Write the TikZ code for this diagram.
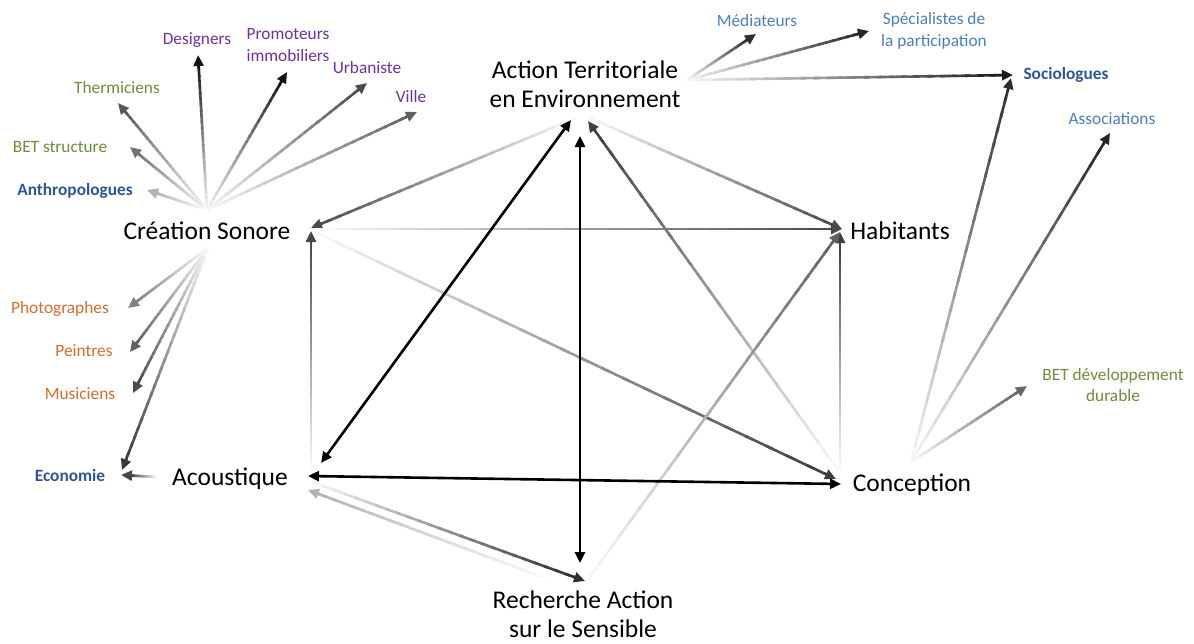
\documentclass[tikz,border=0pt]{standalone}
\usepackage{fontspec}
\setmainfont{Carlito}
\usetikzlibrary{arrows.meta,calc}
\definecolor{cpurple}{RGB}{112,48,160}
\definecolor{cgreen}{RGB}{110,140,60}
\definecolor{cblue}{RGB}{47,85,151}
\definecolor{clblue}{RGB}{74,126,187}
\definecolor{corange}{RGB}{214,108,44}
\tikzset{
  big/.style={font=\fontsize{25.5}{28.5}\selectfont, text=black, align=center, inner sep=0pt},
  small/.style={font=\fontsize{17.3}{21.5}\selectfont, align=center, inner sep=0pt},
  smallb/.style={small, font=\fontsize{17.3}{21.5}\selectfont\bfseries},
  blk/.style={line width=2.6pt, black, {Triangle[length=11pt,width=10pt]}-{Triangle[length=11pt,width=10pt]}},
}
% gradient arrow: tail, head, darkness (0-100)
\newcommand\gradarrow[3]{%
  \coordinate (gS) at (#1);
  \coordinate (gE) at ($(#2)!10pt!(#1)$);
  \foreach \k in {0,...,24}{%
    \pgfmathsetmacro\ta{\k/25}%
    \pgfmathsetmacro\tb{min((\k+1.4)/25,1)}%
    \pgfmathsetmacro\pc{#3*(0.03+0.97*(\k+0.5)/25)}%
    \draw[line width=2.6pt, color=black!\pc] ($(gS)!\ta!(gE)$) -- ($(gS)!\tb!(gE)$);
  }%
  \draw[-{Triangle[length=11pt,width=10pt]}, line width=2.6pt, black!#3] ($(#2)!13pt!(#1)$) -- (#2);
}
\begin{document}
\begin{tikzpicture}[x=1pt,y=-1pt]
\useasboundingbox (0,0) rectangle (1194,643);
% main nodes
\node[big] (ate) at (585,84) {Action Territoriale\\en Environnement};
\node[big] (cs) at (207,231) {Création Sonore};
\node[big] (hab) at (900,231) {Habitants};
\node[big] (aco) at (230,479) {Acoustique};
\node[big] (con) at (912,485) {Conception};
\node[big] (ras) at (583,614) {Recherche Action\\sur le Sensible};
% small labels
\node[small, text=cpurple] (des) at (197,40) {Designers};
\node[small, text=cpurple] (pro) at (288,45) {Promoteurs\\immobiliers};
\node[small, text=cpurple] (urb) at (367,68) {Urbaniste};
\node[small, text=cpurple] (vil) at (411,97) {Ville};
\node[small, text=cgreen] (the) at (117,88) {Thermiciens};
\node[small, text=cgreen] (bets) at (60,147) {BET structure};
\node[smallb, text=cblue] (ant) at (75,191) {Anthropologues};
\node[small, text=corange] (pho) at (60,309) {Photographes};
\node[small, text=corange] (pei) at (84,351) {Peintres};
\node[small, text=corange] (mus) at (80,394) {Musiciens};
\node[smallb, text=cblue] (eco) at (70,475) {Economie};
\node[small, text=clblue] (med) at (757,21) {Médiateurs};
\node[small, text=clblue] (spe) at (934,31) {Spécialistes de\\la participation};
\node[smallb, text=cblue] (soc) at (1066,75) {Sociologues};
\node[small, text=clblue] (ass) at (1112,119) {Associations};
\node[small, text=cgreen] (betd) at (1113,385) {BET développement\\durable};
% anchor coordinates
\coordinate (ateL) at (576,118);
\coordinate (ateR) at (590,118);
\coordinate (ateH) at (588,121);
\coordinate (ateB) at (571,120);
\coordinate (ateV) at (580,136);
\coordinate (csP) at (311,228);
\coordinate (csT) at (315,229);
\coordinate (csV) at (311,231);
\coordinate (csD) at (315,232);
\coordinate (habP) at (842,229);
\coordinate (habV) at (840,232);
\coordinate (acoP) at (308,476);
\coordinate (acoB) at (321,463);
\coordinate (acoV) at (311,470);
\coordinate (acoT) at (312,482);
\coordinate (acoH) at (308,490);
\coordinate (conP) at (841,484);
\coordinate (conT) at (838,470);
\coordinate (conV) at (840,470);
\coordinate (conH) at (836,479);
\coordinate (rasV) at (580,563);
\coordinate (rasP) at (585,581);
\coordinate (rasT) at (589,578);
\coordinate (rasL) at (553,581);
\coordinate (csHubU) at (207,210);
\coordinate (csHubD) at (208,248);
\coordinate (acoE) at (157,477);
\coordinate (ateHub) at (687,80);
\coordinate (conHub) at (911,462);
% arrow tips near labels
\coordinate (tDes) at (198,55);
\coordinate (tPro) at (287,72);
\coordinate (tUrb) at (367,83);
\coordinate (tVil) at (417,112);
\coordinate (tThe) at (118,103);
\coordinate (tBets) at (130,147);
\coordinate (tAnt) at (147,190);
\coordinate (tPho) at (128,308);
\coordinate (tPei) at (130,352);
\coordinate (tMus) at (133,393);
\coordinate (tEco) at (122,470);
\coordinate (tEco2) at (121,475);
\coordinate (tMed) at (756,34);
\coordinate (tSpe) at (869,31);
\coordinate (tSoc) at (1013,75);
\coordinate (tSoc2) at (1011,78);
\coordinate (tAss) at (1110,133);
\coordinate (tBetd) at (1027,386);
% central gradient arrows
\gradarrow{ateL}{csP}{70}
\gradarrow{ateR}{habP}{70}
\gradarrow{csT}{habP}{72}
\gradarrow{conT}{ateH}{75}
\gradarrow{acoV}{csV}{72}
\gradarrow{conV}{habV}{75}
\gradarrow{csD}{conH}{76}
\gradarrow{rasT}{habV}{62}
\gradarrow{acoT}{rasP}{82}
\gradarrow{rasL}{acoH}{30}
% black double arrows
\draw[blk] (ateB) -- (acoB);
\draw[blk] (ateV) -- (rasV);
\draw[blk] (acoP) -- (conP);
% creation sonore hub
\gradarrow{csHubU}{tDes}{92}
\gradarrow{csHubU}{tPro}{92}
\gradarrow{csHubU}{tUrb}{70}
\gradarrow{csHubU}{tVil}{62}
\gradarrow{csHubU}{tThe}{65}
\gradarrow{csHubU}{tBets}{55}
\gradarrow{csHubU}{tAnt}{30}
\gradarrow{csHubD}{tPho}{50}
\gradarrow{csHubD}{tPei}{62}
\gradarrow{csHubD}{tMus}{70}
\gradarrow{csHubD}{tEco}{78}
\gradarrow{acoE}{tEco2}{72}
% ATE hub
\gradarrow{ateHub}{tMed}{82}
\gradarrow{ateHub}{tSpe}{85}
\gradarrow{ateHub}{tSoc}{90}
% Conception hub
\gradarrow{conHub}{tSoc2}{82}
\gradarrow{conHub}{tAss}{85}
\gradarrow{conHub}{tBetd}{60}
\end{tikzpicture}
\end{document}
